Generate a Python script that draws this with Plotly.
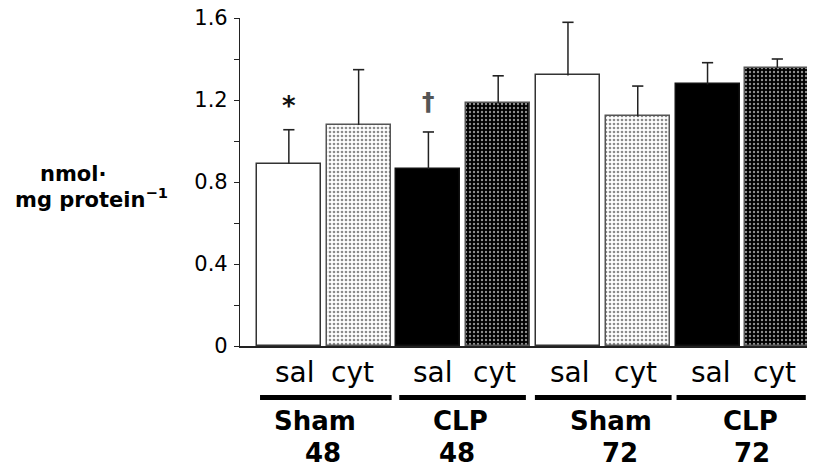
import plotly.graph_objects as go

# ---- data ----
bar_labels = ["sal", "cyt", "sal", "cyt", "sal", "cyt", "sal", "cyt"]
group_names = ["Sham", "CLP", "Sham", "CLP"]
group_hours = ["48", "48", "72", "72"]
values = [0.889, 1.078, 0.863, 1.183, 1.320, 1.120, 1.276, 1.358]
errors = [0.166, 0.270, 0.181, 0.135, 0.259, 0.148, 0.106, 0.042]
marks = ["*", "", "†", "", "", "", "", ""]
y_ticks = [0, 0.4, 0.8, 1.2, 1.6]

FONT = "DejaVu Sans"
xs = list(range(len(values)))

# four bar styles: Sham-sal, Sham-cyt, CLP-sal, CLP-cyt (repeat every 4 bars)
styles = [
    dict(color="white", line="#333", shape="", fg="white", bg="white", sol=0.35),
    dict(color="white", line="#555", shape=".", fg="#8c8c8c", bg="white", sol=0.35),
    dict(color="black", line="#111", shape="", fg="black", bg="black", sol=0.35),
    dict(color="black", line="#555", shape=".", fg="#8f8f8f", bg="black", sol=0.28),
]

fig = go.Figure()
for s, st in enumerate(styles):
    idx = [i for i in xs if i % 4 == s]
    marker = dict(color=st["color"], line=dict(color=st["line"], width=1.5))
    if st["shape"]:
        marker["pattern"] = dict(shape=st["shape"], fgcolor=st["fg"],
                                 bgcolor=st["bg"], size=4,
                                 solidity=st["sol"], fillmode="replace")
    fig.add_trace(go.Bar(
        x=[xs[i] for i in idx], y=[values[i] for i in idx], width=0.917,
        marker=marker, showlegend=False, hoverinfo="skip",
    ))

# error bars (upper only): stems and caps
stem_x, stem_y = [], []
for i in xs:
    stem_x += [xs[i], xs[i], None]
    stem_y += [values[i], values[i] + errors[i], None]
fig.add_trace(go.Scatter(x=stem_x, y=stem_y, mode="lines",
                         line=dict(color="#222", width=1.5),
                         showlegend=False, hoverinfo="skip"))
fig.add_trace(go.Scatter(x=xs, y=[v + e for v, e in zip(values, errors)],
                         mode="markers",
                         marker=dict(symbol="line-ew", size=8,
                                     line=dict(color="#222", width=1.6)),
                         showlegend=False, hoverinfo="skip"))

ann = []
# significance marks
for i, m in enumerate(marks):
    if m:
        star = m == "*"
        ann.append(dict(x=xs[i], y=values[i] + errors[i], xref="x", yref="y",
                        text=f"<b>{m}</b>",
                        showarrow=False, xanchor="center", yanchor="middle",
                        yshift=(24 if star else 30),
                        font=dict(family=FONT, size=(26 if star else 25),
                                  color="#111" if star else "#555")))

# sub labels under bars
sub_shift = [6, -6, 5, -4, 2, -2, 3, -3]
for i, lab in enumerate(bar_labels):
    ann.append(dict(x=xs[i], y=-0.082, xref="x", yref="paper", text=lab,
                    showarrow=False, xanchor="center", yanchor="middle",
                    xshift=sub_shift[i],
                    font=dict(family=FONT, size=28, color="black")))

# group labels and separating bars
name_shift = [-9, -3, 8, 8]
hour_shift = [-1, -6, 17, 10]
line_ext = [(-0.913, 0.973), (-0.918, 0.897), (-0.974, 0.985), (-0.944, 0.908)]
shapes = []
for g in range(len(group_names)):
    cx = (xs[2 * g] + xs[2 * g + 1]) / 2
    ann.append(dict(x=cx, y=-0.230, xref="x", yref="paper",
                    text=f"<b>{group_names[g]}</b>", showarrow=False,
                    xanchor="center", yanchor="middle", xshift=name_shift[g],
                    font=dict(family=FONT, size=26, color="black")))
    ann.append(dict(x=cx, y=-0.326, xref="x", yref="paper",
                    text=f"<b>{group_hours[g]}</b>", showarrow=False,
                    xanchor="center", yanchor="middle", xshift=hour_shift[g],
                    font=dict(family=FONT, size=26, color="black")))
    shapes.append(dict(type="line", xref="x", yref="paper",
                       x0=cx + line_ext[g][0], x1=cx + line_ext[g][1],
                       y0=-0.157, y1=-0.157,
                       line=dict(color="black", width=5)))

# y-axis title (two lines)
ann.append(dict(x=-0.2913, y=0.525, xref="paper", yref="paper",
                text="<b>nmol·</b>", showarrow=False,
                xanchor="center", yanchor="middle",
                font=dict(family=FONT, size=21, color="black")))
ann.append(dict(x=-0.2579, y=0.452, xref="paper", yref="paper",
                text="<b>mg protein<sup>−1</sup></b>", showarrow=False,
                xanchor="center", yanchor="middle",
                font=dict(family=FONT, size=21, color="black")))

fig.update_layout(
    width=807, height=464,
    margin=dict(l=232, r=0, t=10, b=126),
    paper_bgcolor="white", plot_bgcolor="white",
    font=dict(family=FONT, color="black"),
    barmode="overlay", bargap=0,
    annotations=ann, shapes=shapes,
    xaxis=dict(range=[-0.70, 7.54], showline=True, linecolor="#222",
               linewidth=1.5, showticklabels=False, ticks="",
               showgrid=False, zeroline=False, fixedrange=True),
    yaxis=dict(range=[0, 1.6], tickvals=y_ticks,
               ticktext=[f"{v:g}" for v in y_ticks],
               showline=True, linecolor="#222", linewidth=1.2,
               ticks="outside", ticklen=5, tickwidth=1, tickcolor="#222",
               minor=dict(dtick=0.2, ticks="outside", ticklen=5,
                          tickwidth=1, tickcolor="#222"),
               tickfont=dict(family=FONT, size=21, color="black"),
               ticklabelstandoff=2, ticklabeloverflow="allow",
               automargin=False,
               showgrid=False, zeroline=False, fixedrange=True),
)

fig.write_html("out.html")
